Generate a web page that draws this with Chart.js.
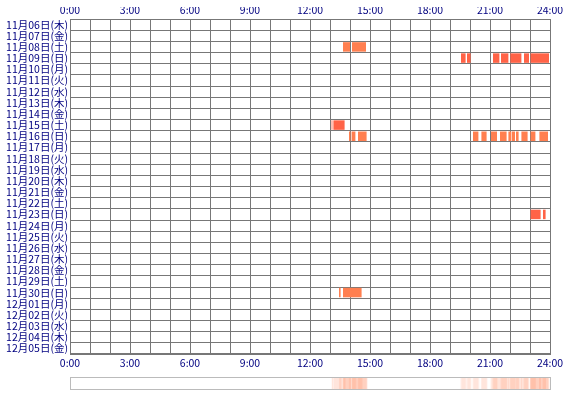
<!DOCTYPE html>
<html>
<head>
<meta charset="utf-8">
<script src="https://cdn.jsdelivr.net/npm/chart.js@4"></script>
<style>
body { margin:0; background:#fff; }
#wrap { position:relative; width:570px; height:400px; }
#main { position:absolute; left:0; top:0; }
#strip { position:absolute; left:70px; top:377px; border:1px solid #bbb; box-sizing:border-box; }
</style>
</head>
<body>
<div id="wrap">
<canvas id="main" width="570" height="400"></canvas>
<canvas id="strip" width="481" height="13"></canvas>
</div>
<script>
var days = ['11月06日(木)','11月07日(金)','11月08日(土)','11月09日(日)','11月10日(月)','11月11日(火)','11月12日(水)',
  '11月13日(木)','11月14日(金)','11月15日(土)','11月16日(日)','11月17日(月)','11月18日(火)','11月19日(水)',
  '11月20日(木)','11月21日(金)','11月22日(土)','11月23日(日)','11月24日(月)','11月25日(火)','11月26日(水)',
  '11月27日(木)','11月28日(金)','11月29日(土)','11月30日(日)','12月01日(月)','12月02日(火)','12月03日(水)',
  '12月04日(木)','12月05日(金)']

// activity segments [start hour, end hour] per day index
var segs08 = [[13.65,14.0],[14.1,14.8]]
var segs09 = [[19.55,19.78],[19.85,20.03],[21.15,21.47],[21.55,21.92],[22.02,22.57],[22.7,22.95],[23.03,23.95]]
var segs15 = [[13.08,13.12],[13.17,13.73]]
var segs16 = [[13.95,14.02],[14.08,14.27],[14.4,14.83],[20.15,20.42],[20.57,20.83],[21.05,21.35],[21.5,21.83],
  [21.92,22.05],[22.08,22.25],[22.3,22.43],[22.57,22.88],[23.03,23.27],[23.47,23.9]]
var segs23 = [[23.03,23.53],[23.65,23.78]]
var segs30 = [[13.45,13.53],[13.65,14.58]]

var segsByDay = {2: segs08, 3: segs09, 9: segs15, 10: segs16, 17: segs23, 24: segs30}
var colorByDay = {2:'#ff7f50', 3:'#ff6347', 9:'#ff6347', 10:'#ff7f50', 17:'#ff6347', 24:'#ff7f50'}

var font = {family:'"Noto Sans CJK JP", sans-serif', size:10.5}
var maxSegs = 0
for (var d in segsByDay) maxSegs = Math.max(maxSegs, segsByDay[d].length)

var datasets = []
for (var k = 0; k < maxSegs; k++) {
  var vals = [], cols = []
  for (var i = 0; i < days.length; i++) {
    var s = segsByDay[i]
    vals.push(s && s[k] ? s[k] : null)
    cols.push(colorByDay[i] || '#ff7f50')
  }
  datasets.push({data: vals, backgroundColor: cols, grouped: false, categoryPercentage: 1, barPercentage: 0.85})
}

function hourTick(v) { return v % 3 == 0 ? v + ':00' : '' }
var xTicks = {stepSize:1, autoSkip:false, maxRotation:0, color:'#000080', font:font, callback: hourTick}

new Chart(document.getElementById('main'), {
  type: 'bar',
  data: {labels: days, datasets: datasets},
  options: {
    indexAxis: 'y', responsive: false, animation: false,
    layout: {padding: {left: 0, right: 20, top: 7, bottom: 0}},
    plugins: {legend: {display: false}, tooltip: {enabled: false}},
    scales: {
      x: {min:0, max:24, position:'bottom', ticks: xTicks,
          grid: {color:'#777', lineWidth:1, drawTicks:false}, border:{color:'#777'},
          afterFit: function(s) { s.height = 46 }},
      x2: {min:0, max:24, position:'top', ticks: xTicks, grid: {display:false, drawTicks:false}, border:{display:false},
          afterFit: function(s) { s.height = 12 }},
      y: {ticks: {color:'#000080', font:font, autoSkip:false, padding:2},
          grid: {color:'#777', lineWidth:1, drawTicks:false, offset:true}, border:{color:'#777'},
          afterFit: function(s) { s.width = 70 }}
    }
  }
})

// summary strip: all segments overlaid faintly
var allSegs = []
for (var d in segsByDay) allSegs = allSegs.concat(segsByDay[d])
new Chart(document.getElementById('strip'), {
  type: 'bar',
  data: {labels: ['all'], datasets: allSegs.map(function(s) {
    return {data: [s], backgroundColor: 'rgba(255,127,80,0.2)', grouped: false, categoryPercentage: 1, barPercentage: 1}
  })},
  options: {
    indexAxis: 'y', responsive: false, animation: false,
    plugins: {legend: {display: false}, tooltip: {enabled: false}},
    scales: {x: {display:false, min:0, max:24}, y: {display:false}}
  }
})
</script>
</body>
</html>
